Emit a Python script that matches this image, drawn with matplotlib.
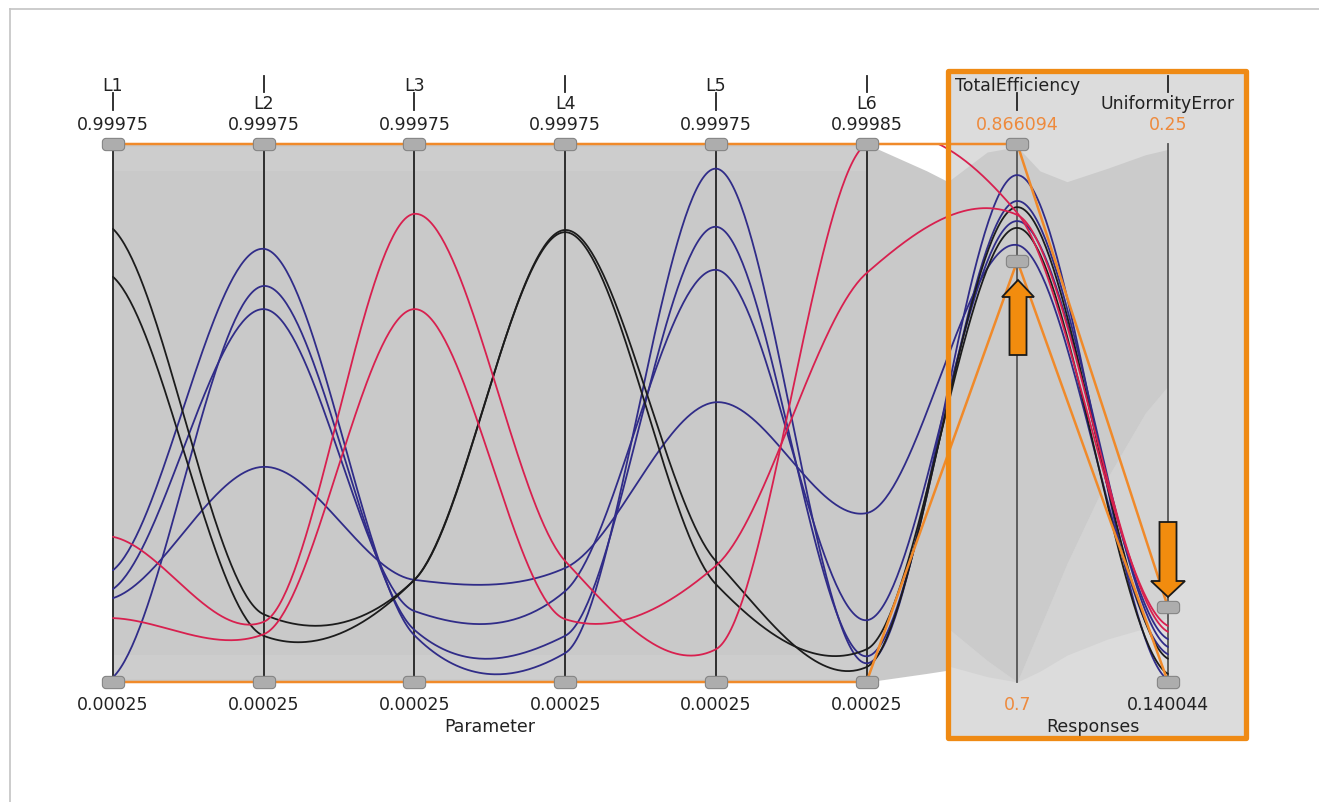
import numpy as np
import matplotlib
matplotlib.use("Agg")
import matplotlib.pyplot as plt
from matplotlib.path import Path
from matplotlib.patches import Polygon, Rectangle

# ---------------- data ----------------
axis_names = ["L1", "L2", "L3", "L4", "L5", "L6", "TotalEfficiency", "UniformityError"]
axis_min = [0.00025, 0.00025, 0.00025, 0.00025, 0.00025, 0.00025, 0.7, 0.140044]
axis_max = [0.99975, 0.99975, 0.99975, 0.99975, 0.99975, 0.99985, 0.866094, 0.25]
top_labels = ["0.99975", "0.99975", "0.99975", "0.99975", "0.99975", "0.99985", "0.866094", "0.25"]
bottom_labels = ["0.00025", "0.00025", "0.00025", "0.00025", "0.00025", "0.00025", "0.7", "0.140044"]
group_labels = ["Parameter", "Responses"]

# filter (brushing) range per axis
filter_min = [0.00025, 0.00025, 0.00025, 0.00025, 0.00025, 0.00025, 0.830, 0.140044]
filter_max = [0.99975, 0.99975, 0.99975, 0.99975, 0.99975, 0.99985, 0.866094, 0.1553]

# highlighted designs (values on L1..L6, TotalEfficiency, UniformityError)
red_1 = [0.270, 0.112, 0.870, 0.225, 0.061, 0.99985, 0.8448, 0.1515]
red_2 = [0.119, 0.089, 0.693, 0.117, 0.216, 0.760, 0.8442, 0.1503]
black_1 = [0.842, 0.126, 0.190, 0.840, 0.225, 0.028, 0.8466, 0.1448]
black_2 = [0.753, 0.086, 0.190, 0.836, 0.182, 0.061, 0.8402, 0.1417]
blue_1 = [0.208, 0.805, 0.087, 0.054, 0.954, 0.035, 0.8565, 0.1405]
blue_2 = [0.009, 0.736, 0.097, 0.086, 0.846, 0.048, 0.8485, 0.1472]
blue_3 = [0.173, 0.693, 0.132, 0.169, 0.766, 0.115, 0.8423, 0.1488]
blue_4 = [0.156, 0.400, 0.190, 0.212, 0.520, 0.314, 0.8349, 0.1457]

# envelope of the grey background lines (axis position, normalised value)
band_x = [0.0, 5.0, 5.2, 5.4, 5.54]
band_hi = [1.0, 1.0, 0.975, 0.95, 0.93]
band_lo = [0.0, 0.0, 0.008, 0.016, 0.022]
resp_x = [5.54, 5.8, 6.0, 6.15, 6.33, 6.6, 6.85, 7.0]
resp_hi = [0.93, 0.985, 0.995, 0.95, 0.93, 0.955, 0.98, 0.99]
resp_lo = [0.10, 0.04, 0.0, 0.10, 0.22, 0.38, 0.50, 0.55]
resp_lo2 = [0.03, 0.01, 0.0, 0.02, 0.05, 0.08, 0.10, 0.12]

# ---------------- layout helpers ----------------
W, H = 1319, 803
X0, DX = 113, 150.71
Y_TOP, Y_BOT = 145, 683


def px_x(p):
    return (p - X0) / DX


def px_y(p):
    return (Y_BOT - p) / (Y_BOT - Y_TOP)


def norm(vals):
    return [(v - lo) / (hi - lo) for v, lo, hi in zip(vals, axis_min, axis_max)]


def cardinal(ys, tension=0.25, damp=0.5, n=80):
    ys = np.asarray(ys, float)
    k = len(ys)
    m = np.zeros(k)
    for i in range(k):
        if 0 < i < k - 1:
            m[i] = (1 - tension) * (ys[i + 1] - ys[i - 1]) / 2
            if (ys[i] - ys[i - 1]) * (ys[i + 1] - ys[i]) < 0:
                m[i] *= damp
        elif i == 0:
            m[i] = (1 - tension) * (ys[1] - ys[0]) / 2
        else:
            m[i] = (1 - tension) * (ys[-1] - ys[-2]) / 4
    xx, yy = [], []
    t = np.linspace(0, 1, n)
    h00 = 2 * t**3 - 3 * t**2 + 1
    h10 = t**3 - 2 * t**2 + t
    h01 = -2 * t**3 + 3 * t**2
    h11 = t**3 - t**2
    for i in range(k - 1):
        xx.append(i + t)
        yy.append(h00 * ys[i] + h10 * m[i] + h01 * ys[i + 1] + h11 * m[i + 1])
    return np.concatenate(xx), np.concatenate(yy)


fig = plt.figure(figsize=(W / 100, H / 100), dpi=100)
fig.patch.set_facecolor("white")
ax = fig.add_axes([0, 0, 1, 1])
ax.set_xlim(px_x(0), px_x(W))
ax.set_ylim(px_y(H), px_y(0))
ax.axis("off")

FONT = "DejaVu Sans"
ORANGE = "#ef8a14"
ORANGE_TXT = "#ee8a3c"

# frame lines (top and left)
ax.plot([px_x(10), px_x(W)], [px_y(10), px_y(10)], color="#c4c4c4", lw=1.2)
ax.plot([px_x(10), px_x(10)], [px_y(10), px_y(H)], color="#c4c4c4", lw=1.2)

# response box background
bx0, by0, bx1, by1 = 948, 72, 1246, 739
ax.add_patch(Rectangle((px_x(bx0), px_y(by1)), px_x(bx1) - px_x(bx0), px_y(by0) - px_y(by1),
                       facecolor="#dcdcdc", edgecolor="none", zorder=0.5))

# grey line envelopes
ax.fill_between(band_x, band_lo, band_hi, color="#c9c9c9", lw=0, zorder=1)
ax.fill_between(resp_x, resp_lo2, resp_lo, color="#d3d3d3", lw=0, zorder=1)
ax.fill_between(resp_x, resp_lo, resp_hi, color="#cbcbcb", lw=0, zorder=1)
# light streaks near the band edges
ax.fill_between([0, 5], [0.95, 0.95], [0.995, 0.995], color="#d2d2d2", lw=0, zorder=1.1, alpha=0.45)
ax.fill_between([0, 5], [0.005, 0.005], [0.05, 0.05], color="#d2d2d2", lw=0, zorder=1.1, alpha=0.45)

# axis lines
n_ax = len(axis_names)
for i in range(n_ax):
    col = "#222222" if i < 6 else "#555555"
    ax.plot([i, i], [0, 1], color=col, lw=1.3, zorder=2)

# highlighted curves
clip = Rectangle((-0.2, -0.02), 7.4, 1.02, transform=ax.transData, visible=False)
ax.add_patch(clip)
series = [
    (blue_1, "#302c88"), (blue_2, "#302c88"), (blue_3, "#302c88"), (blue_4, "#302c88"),
    (black_1, "#1c1c1c"), (black_2, "#1c1c1c"),
    (red_1, "#d8204f"), (red_2, "#d8204f"),
]
for vals, col in series:
    xs, ys = cardinal(norm(vals))
    ln, = ax.plot(xs, ys, color=col, lw=1.3, zorder=3, solid_capstyle="round")
    ln.set_clip_path(clip)

# orange selection envelope
xi = list(range(n_ax))
ax.plot(xi, norm(filter_max), color="#f08a2a", lw=1.8, zorder=4)
ax.plot(xi, norm(filter_min), color="#f08a2a", lw=1.8, zorder=4)

# handles (rounded rectangles)
th = np.linspace(0, np.pi / 2, 8)
r, w2, h2 = 0.32, 1.0, 0.55
verts = []
for cx, cy, a0 in [(w2 - r, h2 - r, 0), (-w2 + r, h2 - r, np.pi / 2),
                   (-w2 + r, -h2 + r, np.pi), (w2 - r, -h2 + r, 1.5 * np.pi)]:
    for a in th + a0:
        verts.append((cx + r * np.cos(a), cy + r * np.sin(a)))
verts.append(verts[0])
handle = Path(verts, closed=True)
for i in range(n_ax):
    f_lo = norm(filter_min)[i]
    f_hi = norm(filter_max)[i]
    ax.plot([i, i], [f_lo, f_hi], ls="none", marker=handle, markersize=16,
            markerfacecolor="#adadad", markeredgecolor="#858585", markeredgewidth=0.8, zorder=6)

# arrows
def arrow_poly(xc, tip, base_head, body_end, hw=16, bw=8.5):
    pts = [(xc, tip), (xc + hw, base_head), (xc + bw, base_head), (xc + bw, body_end),
           (xc - bw, body_end), (xc - bw, base_head), (xc - hw, base_head)]
    return [(px_x(a), px_y(b)) for a, b in pts]

ax.add_patch(Polygon(arrow_poly(1018, 281, 298, 356), closed=True, facecolor="#f28c0e",
                     edgecolor="#1a1a1a", lw=1.3, zorder=7))
ax.add_patch(Polygon(arrow_poly(1168, 598, 582, 523, hw=17), closed=True, facecolor="#f28c0e",
                     edgecolor="#1a1a1a", lw=1.3, zorder=7))

# response box border
ax.add_patch(Rectangle((px_x(bx0), px_y(by1)), px_x(bx1) - px_x(bx0), px_y(by0) - px_y(by1),
                       facecolor="none", edgecolor=ORANGE, lw=3.8, joinstyle="round", zorder=8))

# labels
FS = 12.5
for i, name in enumerate(axis_names):
    if i % 2 == 0:
        ax.text(i, px_y(86), name, ha="center", va="center", fontsize=FS, family=FONT, color="#222222")
        ax.plot([i, i], [px_y(94), px_y(111)], color="#222222", lw=1.3)
    else:
        ax.plot([i, i], [px_y(77), px_y(93)], color="#222222", lw=1.3)
        ax.text(i, px_y(104), name, ha="center", va="center", fontsize=FS, family=FONT, color="#222222")
    tcol = ORANGE_TXT if i >= 6 else "#222222"
    ax.text(i, px_y(125), top_labels[i], ha="center", va="center", fontsize=FS, family=FONT, color=tcol)
    bcol = ORANGE_TXT if i == 6 else "#222222"
    ax.text(i, px_y(705), bottom_labels[i], ha="center", va="center", fontsize=FS, family=FONT, color=bcol)

ax.text(px_x(490), px_y(727), group_labels[0], ha="center", va="center", fontsize=FS, family=FONT, color="#222222")
ax.text(px_x(1093), px_y(727), group_labels[1], ha="center", va="center", fontsize=FS, family=FONT, color="#222222")

fig.savefig("out.png", dpi=100, facecolor="white")
